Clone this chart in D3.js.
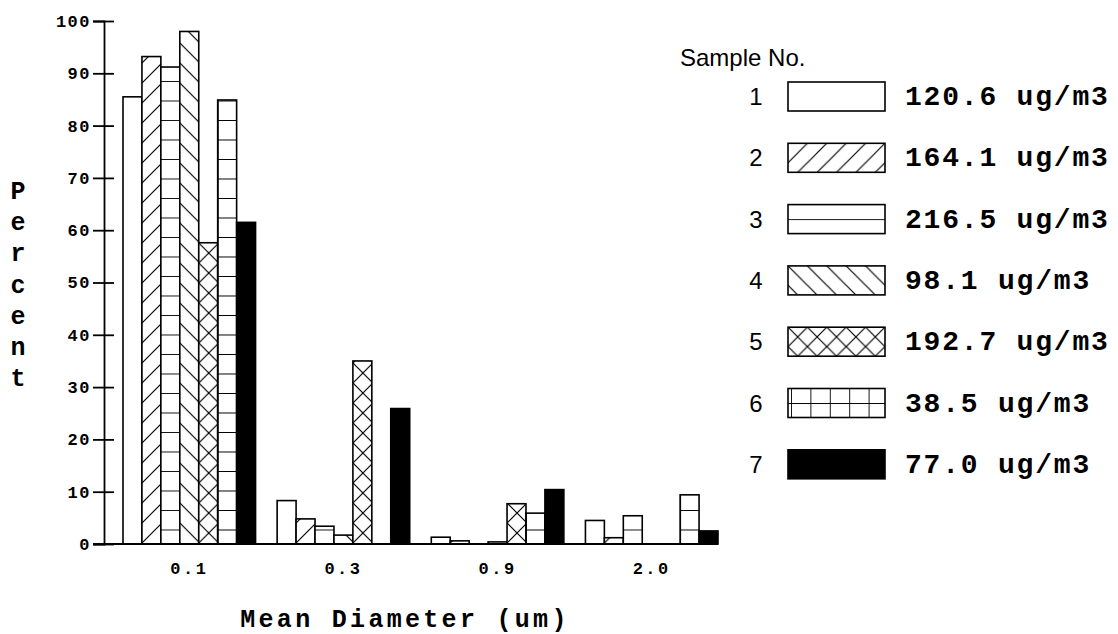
<!DOCTYPE html>
<html>
<head>
<meta charset="utf-8">
<script src="https://cdn.jsdelivr.net/npm/d3@7"></script>
<style>
  body { margin: 0; background: #fff; }
  svg { display: block; }
</style>
</head>
<body>
<div id="chart"></div>
<script>
// Data
const diameters = ["0.1", "0.3", "0.9", "2.0"];
const samples = ["1", "2", "3", "4", "5", "6", "7"];
const concentrations = ["120.6 ug/m3", "164.1 ug/m3", "216.5 ug/m3", "98.1 ug/m3",
  "192.7 ug/m3", "38.5 ug/m3", "77.0 ug/m3"];
const fills = ["blank", "slash", "hlines", "backslash", "cross", "grid", "solid"];
// percent per sample, one value per diameter
const sample1 = [85.5, 8.3, 1.3, 4.5];
const sample2 = [93.2, 4.8, 0.6, 1.2];
const sample3 = [91.2, 3.4, 0.0, 5.4];
const sample4 = [98.0, 1.7, 0.4, 0.0];
const sample5 = [57.6, 35.0, 7.7, 0.0];
const sample6 = [84.9, 0.0, 5.9, 9.4];
const sample7 = [61.5, 25.9, 10.4, 2.5];
const yTicks = [0, 10, 20, 30, 40, 50, 60, 70, 80, 90, 100];

const series = [sample1, sample2, sample3, sample4, sample5, sample6, sample7];

const W = 1118, H = 634;
const mono = "'Liberation Mono', 'Courier New', monospace";
const sans = "'Liberation Sans', Arial, sans-serif";

const svg = d3.select("#chart").append("svg")
  .attr("width", W).attr("height", H);
const defs = svg.append("defs");

const x0 = d3.scaleBand().domain(diameters).range([123, 718]).paddingInner(0.14).paddingOuter(0);
const x1 = d3.scaleBand().domain(samples).range([0, x0.bandwidth()]).padding(0);
const y = d3.scaleLinear().domain([0, 100]).range([544, 21]);

// pattern per mark so the hatching lines up with each box
let pid = 0;
function makePattern(kind, ox, oy, cell) {
  if (kind === "blank") return "#fff";
  if (kind === "solid") return "#000";
  const id = "p" + pid++;
  const s = cell;
  const p = defs.append("pattern")
    .attr("id", id)
    .attr("patternUnits", "userSpaceOnUse")
    .attr("x", ox).attr("y", oy)
    .attr("width", s).attr("height", s);
  p.append("rect").attr("width", s).attr("height", s).attr("fill", "#fff");
  let d = "";
  if (kind === "slash") d = `M0,${s} L${s},0 M${-s / 4},${s / 4} L${s / 4},${-s / 4} M${s * 3 / 4},${s * 5 / 4} L${s * 5 / 4},${s * 3 / 4}`;
  if (kind === "backslash") d = `M0,0 L${s},${s} M${-s / 4},${s * 3 / 4} L${s / 4},${s * 5 / 4} M${s * 3 / 4},${-s / 4} L${s * 5 / 4},${s / 4}`;
  if (kind === "cross") d = `M0,${s} L${s},0 M0,0 L${s},${s}`;
  if (kind === "hlines") d = `M0,0 L${s},0`;
  if (kind === "grid") d = `M0,0 L${s},0 M0,0 L0,${s}`;
  p.append("path").attr("d", d)
    .attr("stroke", "#000").attr("stroke-width", kind === "hlines" || kind === "grid" ? 1.8 : 1.2)
    .attr("fill", "none");
  return `url(#${id})`;
}

// bars
const barData = [];
series.forEach((vals, si) => {
  vals.forEach((v, di) => barData.push({ sample: samples[si], kind: fills[si], diameter: diameters[di], value: v }));
});

svg.append("g").selectAll("rect")
  .data(barData.filter(d => d.value > 0))
  .join("rect")
  .attr("x", d => x0(d.diameter) + x1(d.sample))
  .attr("y", d => y(d.value))
  .attr("width", x1.bandwidth())
  .attr("height", d => y(0) - y(d.value))
  .attr("fill", d => {
    const bx = x0(d.diameter) + x1(d.sample);
    return makePattern(d.kind, bx, 3, d.kind === "grid" || d.kind === "hlines" ? 19.5 : 20);
  })
  .attr("stroke", "#000")
  .attr("stroke-width", 1.6);

// y axis
const yAxis = svg.append("g")
  .attr("transform", `translate(104,0)`)
  .call(d3.axisLeft(y).tickValues(yTicks).tickSize(11).tickPadding(4));
yAxis.select(".domain").attr("stroke-width", 1.8);
yAxis.selectAll(".tick line").attr("x1", -11).attr("x2", 10).attr("stroke-width", 1.8);
yAxis.selectAll(".tick text")
  .attr("x", -13)
  .style("font-family", mono).style("font-weight", "bold")
  .style("font-size", "17px").style("letter-spacing", "1.5px")
  .attr("fill", "#000");

// x axis
svg.append("line")
  .attr("x1", 93).attr("x2", 718)
  .attr("y1", y(0)).attr("y2", y(0))
  .attr("stroke", "#000").attr("stroke-width", 1.8);
const xAxis = svg.append("g")
  .attr("transform", `translate(0,${y(0)})`)
  .call(d3.axisBottom(x0).tickSize(0));
xAxis.select(".domain").remove();
xAxis.selectAll(".tick text")
  .attr("y", 30).attr("dy", 0)
  .style("font-family", mono).style("font-weight", "bold")
  .style("font-size", "17px").style("letter-spacing", "2.5px")
  .attr("fill", "#000");

// axis titles
svg.append("text")
  .attr("x", 405).attr("y", 627)
  .attr("text-anchor", "middle")
  .style("font-family", mono).style("font-size", "25px").style("font-weight", "bold")
  .style("letter-spacing", "3.3px")
  .text("Mean Diameter (um)");

const yTitle = svg.append("text")
  .style("font-family", mono).style("font-size", "25px").style("font-weight", "bold")
  .attr("text-anchor", "middle");
"Percent".split("").forEach((ch, i) => {
  yTitle.append("tspan").attr("x", 18).attr("y", 199 + i * 31.2).text(ch);
});

// legend
svg.append("text")
  .attr("x", 680).attr("y", 66)
  .style("font-family", sans).style("font-size", "24px")
  .text("Sample No.");

const lg = svg.append("g");
samples.forEach((s, i) => {
  const by = 82 + i * 61.3;
  const kind = fills[i];
  let fill;
  if (kind === "hlines") fill = makePattern(kind, 788, by + 14.5, 30);
  else if (kind === "grid") fill = makePattern(kind, 791, by + 14.5, 19.4);
  else fill = makePattern(kind, 788, by, 19.4);
  lg.append("rect")
    .attr("x", 788).attr("y", by).attr("width", 97).attr("height", 29)
    .attr("fill", fill).attr("stroke", "#000").attr("stroke-width", 1.6);
  lg.append("text")
    .attr("x", 756).attr("y", by + 23).attr("text-anchor", "middle")
    .style("font-family", sans).style("font-size", "24px")
    .text(s);
  lg.append("text")
    .attr("x", 905).attr("y", by + 23)
    .style("font-family", mono).style("font-size", "28px").style("font-weight", "bold")
    .style("letter-spacing", "1.8px")
    .text(concentrations[i]);
});
</script>
</body>
</html>
